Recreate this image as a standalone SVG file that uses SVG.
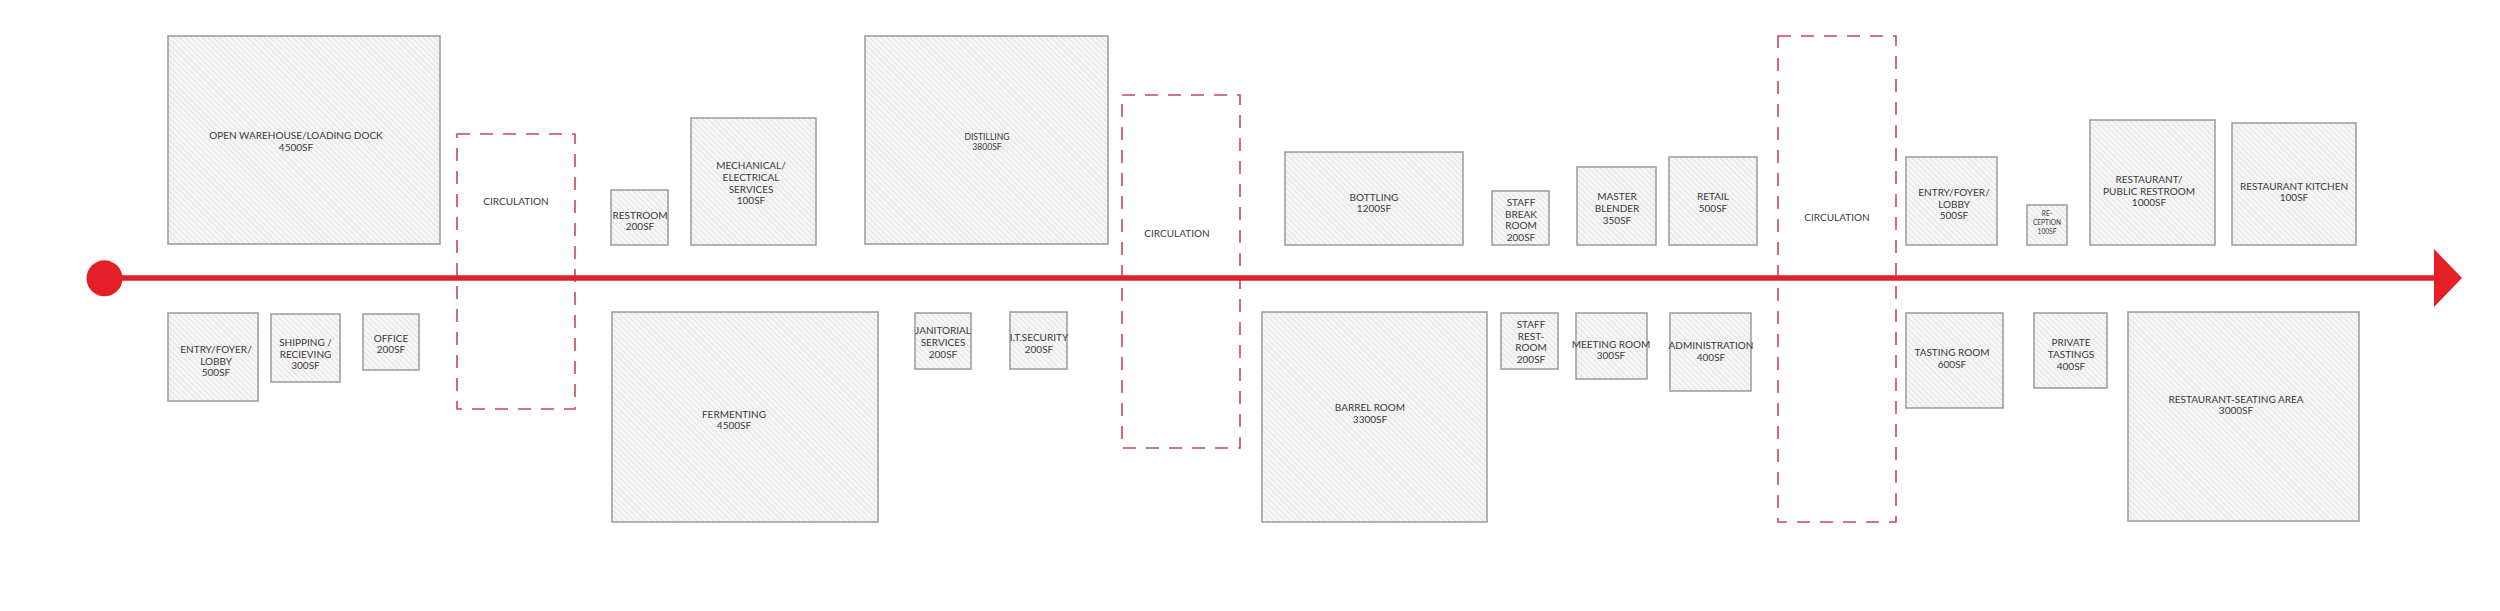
<svg xmlns="http://www.w3.org/2000/svg" width="2500" height="611" viewBox="0 0 2500 611">
<defs>
<pattern id="hatch" patternUnits="userSpaceOnUse" width="4" height="4" patternTransform="rotate(-45)">
<rect width="4" height="4" fill="#f6f6f6"/>
<line x1="0" y1="0" x2="0" y2="4" stroke="#d6d6d6" stroke-width="1.2"/>
</pattern>
<marker id="arrow" markerUnits="userSpaceOnUse" markerWidth="30" markerHeight="60" refX="0" refY="29" orient="auto">
<path d="M0,0 L28,29 L0,58 Z" fill="#e41f28"/>
</marker>
</defs>
<style>
.room{fill:url(#hatch);stroke:#9a9a9a;stroke-width:1.5}
.circ{fill:none;stroke:#c9485a;stroke-width:1.6;stroke-dasharray:13 10}
text{font-family:Lato,"Liberation Sans",sans-serif;font-size:10px;fill:#3a3a3a;text-anchor:middle}
.sm{font-size:8.6px}
.xs{font-size:6.6px}
</style>
<rect width="2500" height="611" fill="#ffffff"/>
<g id="circulation-1"><rect class="circ" x="457" y="134" width="118" height="275"/><text x="516" y="205.3">CIRCULATION</text></g>
<g id="circulation-2"><rect class="circ" x="1122" y="95" width="118" height="353"/><text x="1177" y="237.3">CIRCULATION</text></g>
<g id="circulation-3"><rect class="circ" x="1778" y="36" width="118" height="486"/><text x="1837" y="220.6">CIRCULATION</text></g>
<g id="connectors">
<line x1="104" y1="278" x2="2434" y2="278" stroke="#dc222c" stroke-width="5.5" marker-end="url(#arrow)"/>
<circle cx="104.5" cy="278.3" r="18" fill="#e41f28"/>
</g>
<g id="open-warehouse"><rect class="room" x="168" y="36" width="272" height="208"/><text x="296" y="139.3">OPEN WAREHOUSE/LOADING DOCK</text><text x="296" y="150.9">4500SF</text></g>
<g id="entry-1"><rect class="room" x="168" y="313" width="90" height="88"/><text x="216" y="352.9">ENTRY/FOYER/</text><text x="216" y="364.6">LOBBY</text><text x="216" y="375.9">500SF</text></g>
<g id="shipping"><rect class="room" x="271" y="314" width="69" height="68"/><text x="305.5" y="346.3">SHIPPING /</text><text x="305.5" y="357.6">RECIEVING</text><text x="305.5" y="368.9">300SF</text></g>
<g id="office"><rect class="room" x="363" y="314" width="56" height="56"/><text x="391" y="341.6">OFFICE</text><text x="391" y="353.3">200SF</text></g>
<g id="restroom"><rect class="room" x="611" y="190" width="57" height="55"/><text x="640" y="218.6">RESTROOM</text><text x="640" y="229.6">200SF</text></g>
<g id="mechanical"><rect class="room" x="691" y="118" width="125" height="127"/><text x="751" y="169.3">MECHANICAL/</text><text x="751" y="180.9">ELECTRICAL</text><text x="751" y="192.6">SERVICES</text><text x="751" y="204.3">100SF</text></g>
<g id="fermenting"><rect class="room" x="612" y="312" width="266" height="210"/><text x="734" y="417.6">FERMENTING</text><text x="734" y="429.3">4500SF</text></g>
<g id="distilling"><rect class="room" x="865" y="36" width="243" height="208"/><text class="sm" x="987" y="139.8">DISTILLING</text><text class="sm" x="987" y="149.8">3800SF</text></g>
<g id="janitorial"><rect class="room" x="915" y="313" width="56" height="56"/><text x="943" y="334.3">JANITORIAL</text><text x="943" y="345.9">SERVICES</text><text x="943" y="357.6">200SF</text></g>
<g id="it-security"><rect class="room" x="1010" y="312" width="57" height="57"/><text x="1039" y="341.3">I.T.SECURITY</text><text x="1039" y="352.9">200SF</text></g>
<g id="bottling"><rect class="room" x="1285" y="152" width="178" height="93"/><text x="1374" y="200.9">BOTTLING</text><text x="1374" y="212.3">1200SF</text></g>
<g id="barrel-room"><rect class="room" x="1262" y="312" width="225" height="210"/><text x="1370" y="410.9">BARREL ROOM</text><text x="1370" y="422.6">3300SF</text></g>
<g id="staff-break"><rect class="room" x="1492" y="191" width="57" height="54"/><text x="1521" y="205.9">STAFF</text><text x="1521" y="217.6">BREAK</text><text x="1521" y="228.9">ROOM</text><text x="1521" y="240.6">200SF</text></g>
<g id="staff-restroom"><rect class="room" x="1501" y="313" width="57" height="56"/><text x="1531" y="327.9">STAFF</text><text x="1531" y="339.6">REST-</text><text x="1531" y="350.9">ROOM</text><text x="1531" y="362.6">200SF</text></g>
<g id="master-blender"><rect class="room" x="1577" y="167" width="79" height="78"/><text x="1617" y="200.3">MASTER</text><text x="1617" y="211.9">BLENDER</text><text x="1617" y="223.6">350SF</text></g>
<g id="meeting-room"><rect class="room" x="1576" y="313" width="71" height="66"/><text x="1611" y="347.9">MEETING ROOM</text><text x="1611" y="359.3">300SF</text></g>
<g id="retail"><rect class="room" x="1669" y="157" width="88" height="88"/><text x="1713" y="199.9">RETAIL</text><text x="1713" y="211.6">500SF</text></g>
<g id="administration"><rect class="room" x="1670" y="313" width="81" height="78"/><text x="1711" y="349.3">ADMINISTRATION</text><text x="1711" y="360.6">400SF</text></g>
<g id="entry-2"><rect class="room" x="1906" y="157" width="91" height="88"/><text x="1954" y="195.9">ENTRY/FOYER/</text><text x="1954" y="207.6">LOBBY</text><text x="1954" y="219.3">500SF</text></g>
<g id="tasting-room"><rect class="room" x="1906" y="313" width="97" height="95"/><text x="1952" y="356.3">TASTING ROOM</text><text x="1952" y="367.6">600SF</text></g>
<g id="reception"><rect class="room" x="2027" y="205" width="40" height="40"/><text class="xs" x="2047" y="215.7">RE-</text><text class="xs" x="2047" y="225.1">CEPTION</text><text class="xs" x="2047" y="234.4">100SF</text></g>
<g id="private-tastings"><rect class="room" x="2034" y="313" width="73" height="75"/><text x="2071" y="346.3">PRIVATE</text><text x="2071" y="357.9">TASTINGS</text><text x="2071" y="369.9">400SF</text></g>
<g id="restaurant-restroom"><rect class="room" x="2090" y="120" width="125" height="125"/><text x="2149" y="182.9">RESTAURANT/</text><text x="2149" y="194.6">PUBLIC RESTROOM</text><text x="2149" y="206.3">1000SF</text></g>
<g id="restaurant-kitchen"><rect class="room" x="2232" y="123" width="124" height="122"/><text x="2294" y="189.6">RESTAURANT KITCHEN</text><text x="2294" y="201.3">100SF</text></g>
<g id="restaurant-seating"><rect class="room" x="2128" y="312" width="231" height="209"/><text x="2236" y="402.6">RESTAURANT-SEATING AREA</text><text x="2236" y="414.3">3000SF</text></g>
</svg>
